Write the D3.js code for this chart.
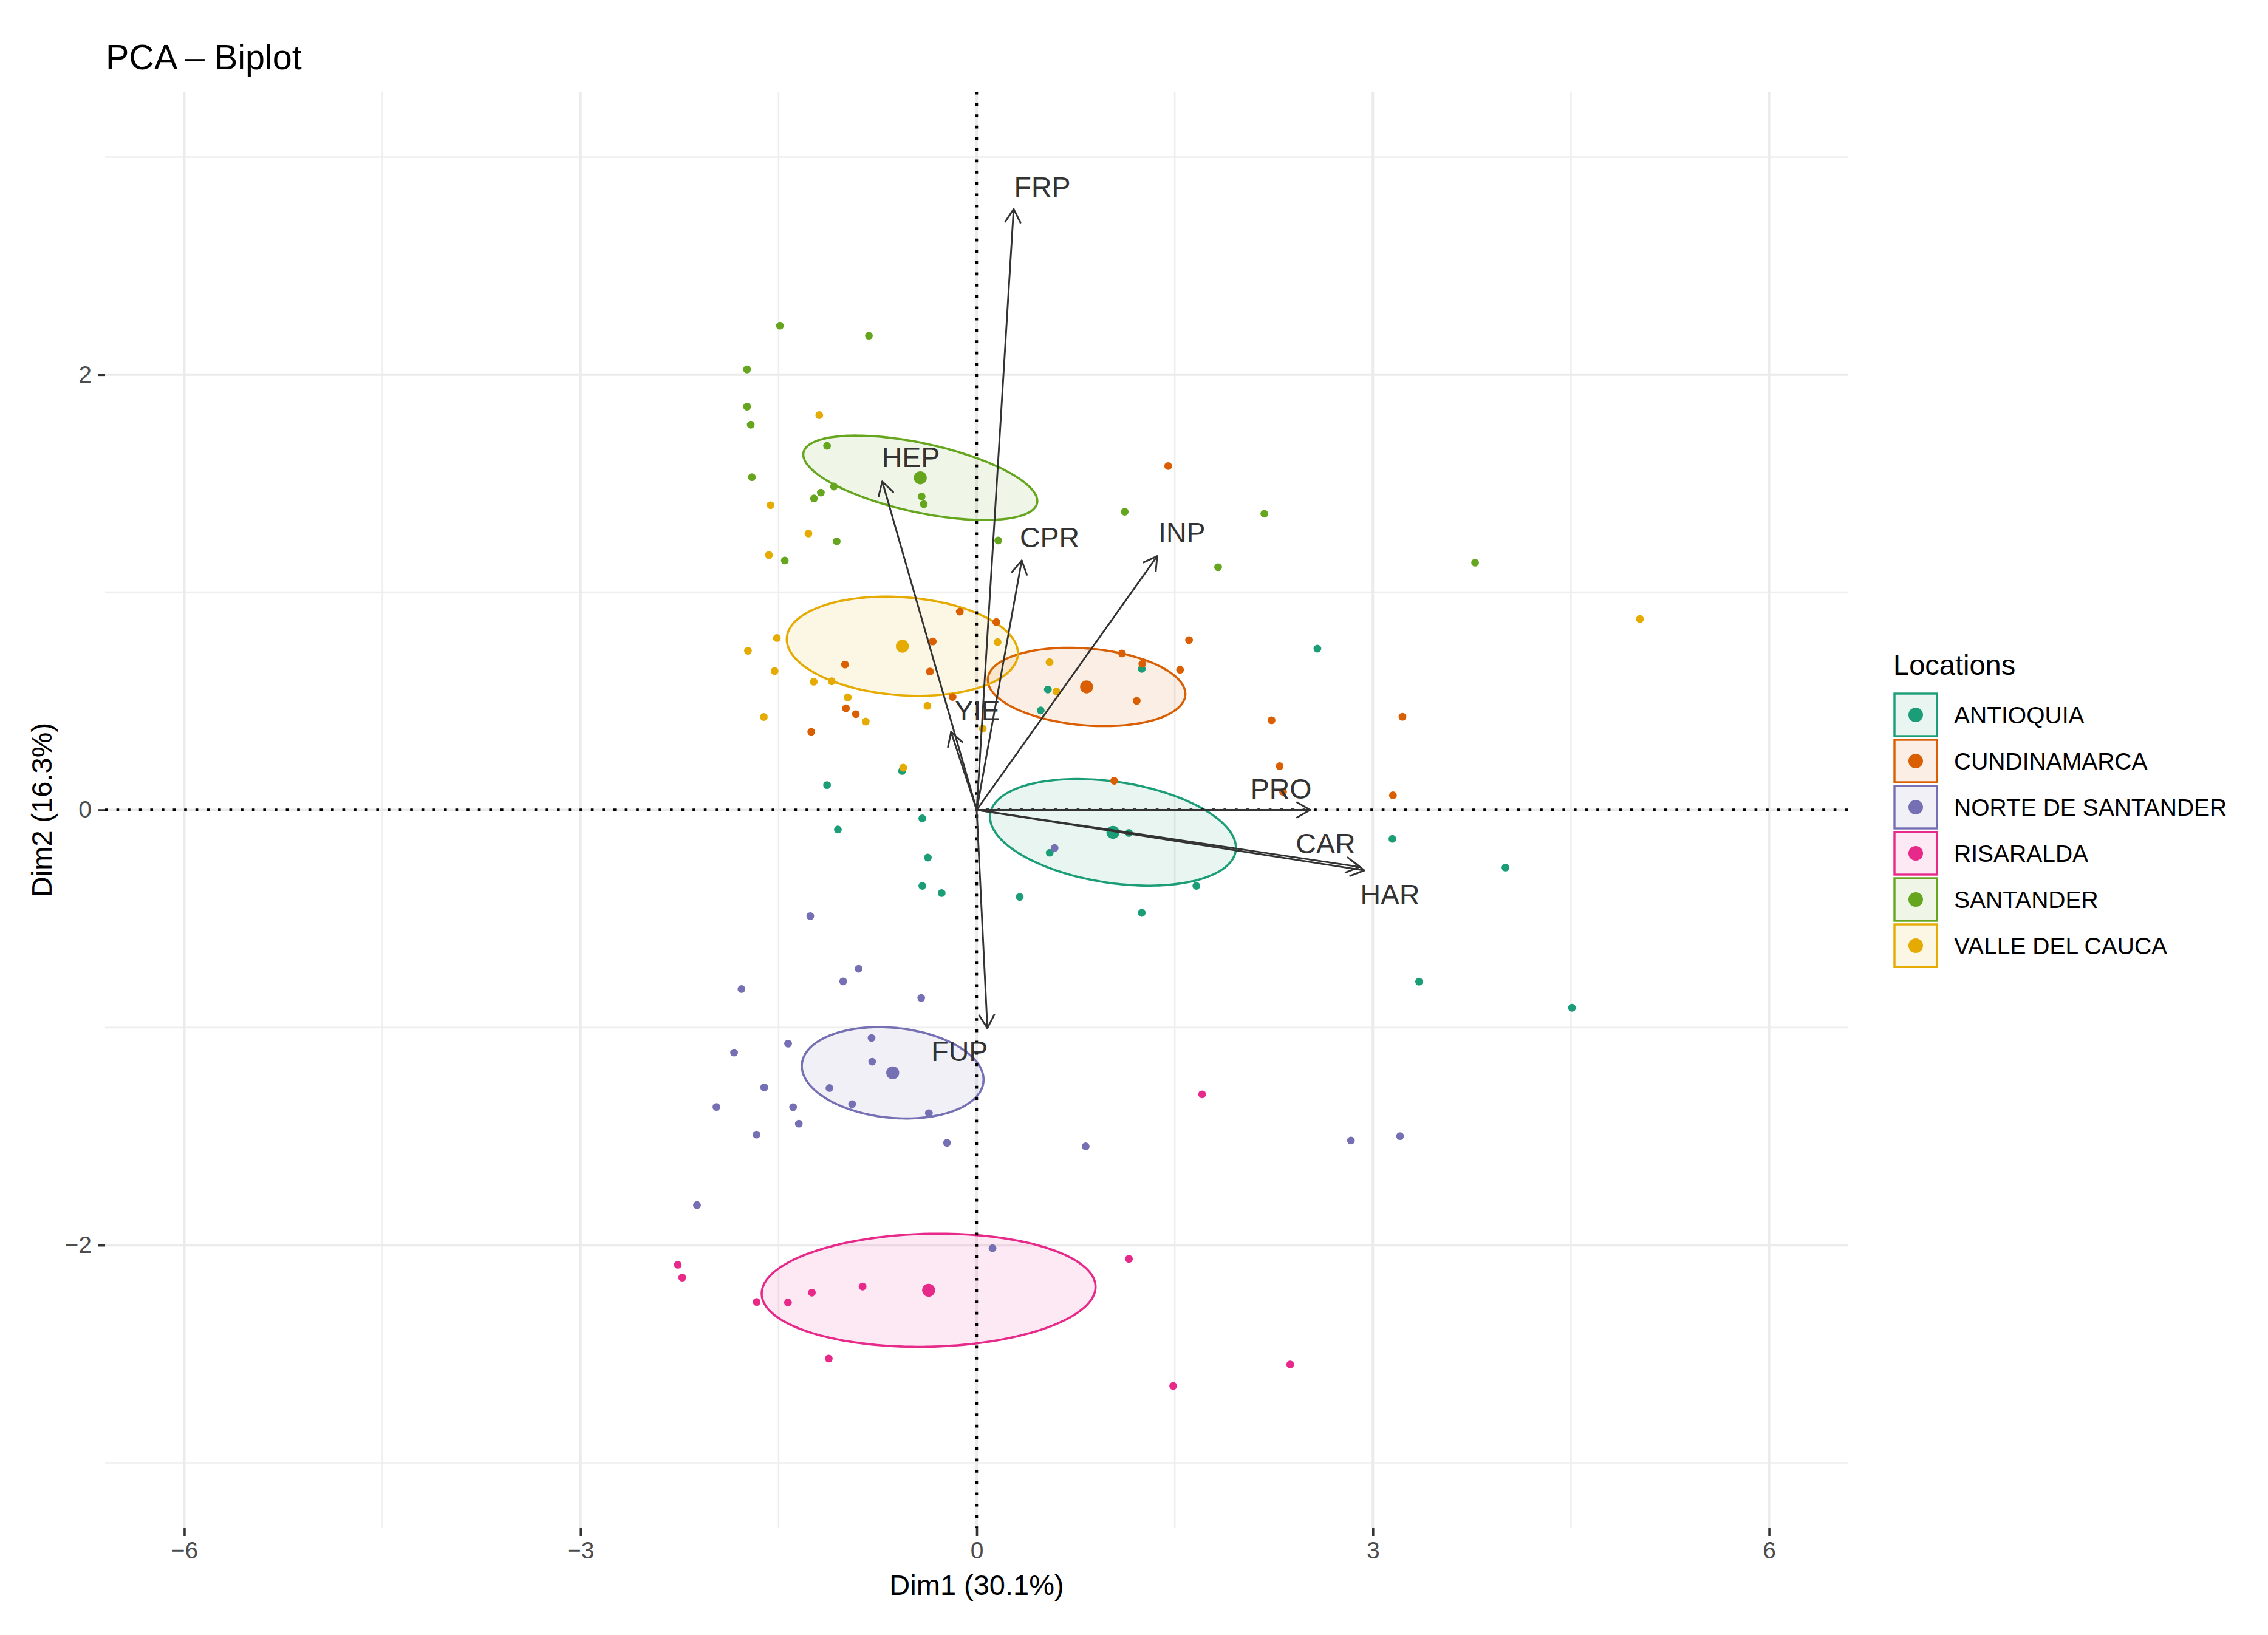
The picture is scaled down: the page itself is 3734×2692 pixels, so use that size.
<!DOCTYPE html>
<html>
<head>
<meta charset="utf-8">
<script src="https://cdn.jsdelivr.net/npm/d3@7/dist/d3.min.js"></script>
<style>
  html, body { margin: 0; padding: 0; background: #ffffff; }
  svg { display: block; }
  text { font-family: "Liberation Sans", Arial, Helvetica, sans-serif; }
</style>
</head>
<body>
<svg id="chart" width="3734" height="2692"></svg>
<script>
// ---------------- DATA ----------------
const categories = ["ANTIOQUIA", "CUNDINAMARCA", "NORTE DE SANTANDER", "RISARALDA", "SANTANDER", "VALLE DEL CAUCA"];
const palette = ["#1B9E77", "#D95F02", "#7570B3", "#E7298A", "#66A61E", "#E6AB02"];

const antioquia = [[1.250,0.648],[0.539,0.553],[0.485,0.457],[-0.565,0.179],[2.580,0.741],[-1.133,0.114],
  [-0.412,-0.039],[-1.051,-0.090],[-0.370,-0.219],[-0.412,-0.349],[-0.265,-0.382],[0.326,-0.400],
  [1.250,-0.473],[1.153,-0.106],[0.553,-0.197],[1.663,-0.349],[3.148,-0.133],[3.350,-0.789],
  [4.004,-0.265],[4.508,-0.909]];
const cundinamarca = [[1.450,1.580],[-0.128,0.911],[0.149,0.863],[-0.333,0.774],[-0.997,0.668],[-0.354,0.636],
  [-0.182,0.519],[-0.990,0.467],[-0.915,0.440],[-1.253,0.359],[1.100,0.719],[1.254,0.671],[1.540,0.644],
  [1.212,0.501],[2.233,0.412],[3.224,0.428],[2.294,0.201],[2.320,0.083],[3.152,0.067],[1.041,0.134],[1.608,0.780]];
const norteDeSantander = [[0.590,-0.175],[-1.260,-0.488],[-0.894,-0.730],[-1.011,-0.788],[-1.781,-0.823],
  [-0.420,-0.864],[-0.796,-1.048],[-1.428,-1.074],[-1.837,-1.115],[-0.791,-1.157],[-1.609,-1.275],
  [-1.115,-1.278],[-1.971,-1.365],[-1.390,-1.366],[-0.943,-1.352],[-0.362,-1.394],[-1.347,-1.442],
  [-1.667,-1.492],[-0.225,-1.530],[0.825,-1.546],[-2.118,-1.816],[0.120,-2.014],[2.834,-1.519],[3.206,-1.499]];
const risaralda = [[-2.263,-2.090],[-2.230,-2.149],[-1.666,-2.261],[-1.429,-2.263],[-1.248,-2.218],
  [-0.864,-2.190],[-1.120,-2.521],[1.153,-2.063],[1.707,-1.307],[1.488,-2.647],[2.374,-2.548]];
const santander = [[-1.490,2.225],[-0.816,2.179],[-1.739,2.024],[-1.739,1.853],[-1.711,1.770],[-1.133,1.673],
  [-1.702,1.529],[-1.081,1.486],[-1.180,1.458],[-1.232,1.431],[-0.417,1.440],[-0.401,1.405],[-1.060,1.234],
  [-1.453,1.146],[0.163,1.238],[1.121,1.370],[2.178,1.361],[1.828,1.115],[3.774,1.136]];
const valleDelCauca = [[-1.192,1.814],[-1.561,1.400],[-1.274,1.270],[-1.573,1.171],[-1.513,0.790],[-1.732,0.731],
  [-1.530,0.638],[-1.234,0.589],[-1.098,0.591],[-0.976,0.517],[-0.840,0.406],[-1.612,0.427],[-0.373,0.478],
  [0.158,0.771],[0.552,0.679],[0.604,0.544],[0.046,0.373],[-0.556,0.194],[5.022,0.877]];

const groupPoints = [antioquia, cundinamarca, norteDeSantander, risaralda, santander, valleDelCauca];

// group means (big points / ellipse centres)
const centroidX = [1.032, 0.832, -0.636, -0.364, -0.427, -0.563];
const centroidY = [-0.103, 0.565, -1.208, -2.207, 1.526, 0.752];
// confidence ellipses: half extent in x, half extent in y, correlation
const ellipseHalfX = [0.931, 0.748, 0.688, 1.264, 0.886, 0.875];
const ellipseHalfY = [0.245, 0.180, 0.210, 0.260, 0.194, 0.228];
const ellipseRho   = [-0.29, -0.18, -0.15, 0.06, -0.55, -0.14];

// variable arrows
const variables = ["FRP", "HEP", "CPR", "INP", "YIE", "FUP", "PRO", "CAR", "HAR"];
const varX = [0.280, -0.715, 0.341, 1.367, -0.194, 0.081, 2.525, 2.900, 2.935];
const varY = [2.761, 1.509, 1.146, 1.166, 0.358, -1.003, 0.000, -0.262, -0.278];
const labelX = [0.497, -0.499, 0.552, 1.554, 0.005, -0.130, 2.305, 2.642, 3.130];
const labelY = [2.865, 1.621, 1.254, 1.275, 0.459, -1.108, 0.098, -0.153, -0.386];

const xMajor = [-6, -3, 0, 3, 6];
const xMinor = [-4.5, -1.5, 1.5, 4.5];
const yMajor = [-2, 0, 2];
const yMinor = [-3, -1, 1, 3];
const xDomain = [-6.6, 6.6];
const yDomain = [-3.3, 3.3];

const titleText = "PCA – Biplot";
const xTitle = "Dim1 (30.1%)";
const yTitle = "Dim2 (16.3%)";
const legendTitle = "Locations";

// ---------------- LAYOUT ----------------
const panel = { left: 173, right: 3043, top: 151, bottom: 2516 };
const svg = d3.select("#chart");
svg.append("rect").attr("width", 3734).attr("height", 2692).attr("fill", "#ffffff");

const x = d3.scaleLinear().domain(xDomain).range([panel.left, panel.right]);
const y = d3.scaleLinear().domain(yDomain).range([panel.bottom, panel.top]);

// grid
const grid = svg.append("g");
grid.selectAll(".vminor").data(xMinor).join("line")
  .attr("x1", d => x(d)).attr("x2", d => x(d)).attr("y1", panel.top).attr("y2", panel.bottom)
  .attr("stroke", "#eeeeee").attr("stroke-width", 2.6);
grid.selectAll(".hminor").data(yMinor).join("line")
  .attr("y1", d => y(d)).attr("y2", d => y(d)).attr("x1", panel.left).attr("x2", panel.right)
  .attr("stroke", "#eeeeee").attr("stroke-width", 2.6);
grid.selectAll(".vmajor").data(xMajor).join("line")
  .attr("x1", d => x(d)).attr("x2", d => x(d)).attr("y1", panel.top).attr("y2", panel.bottom)
  .attr("stroke", "#ebebeb").attr("stroke-width", 4);
grid.selectAll(".hmajor").data(yMajor).join("line")
  .attr("y1", d => y(d)).attr("y2", d => y(d)).attr("x1", panel.left).attr("x2", panel.right)
  .attr("stroke", "#ebebeb").attr("stroke-width", 4);

// axes (ticks + labels) using d3 axes
const minusFmt = d => d < 0 ? "\u2212" + Math.abs(d) : String(d);
const xAxis = d3.axisBottom(x).tickValues(xMajor).tickSize(13).tickPadding(9).tickFormat(minusFmt);
const yAxis = d3.axisLeft(y).tickValues(yMajor).tickSize(11).tickPadding(11).tickFormat(minusFmt);
const gx = svg.append("g").attr("transform", `translate(0,${panel.bottom})`).call(xAxis);
const gy = svg.append("g").attr("transform", `translate(${panel.left},0)`).call(yAxis);
[gx, gy].forEach(g => {
  g.select(".domain").remove();
  g.selectAll(".tick line").attr("stroke", "#333333").attr("stroke-width", 3.6);
  g.selectAll(".tick text").attr("fill", "#4d4d4d").attr("font-size", 39)
    .attr("font-family", "Liberation Sans, Arial, sans-serif");
});

// ellipses
function ellipsePoints(i) {
  const pts = [];
  const r = ellipseRho[i], s = Math.sqrt(1 - r * r);
  for (let k = 0; k <= 180; k++) {
    const t = (k / 180) * 2 * Math.PI;
    pts.push([centroidX[i] + ellipseHalfX[i] * Math.cos(t),
              centroidY[i] + ellipseHalfY[i] * (r * Math.cos(t) - s * Math.sin(t))]);
  }
  return pts;
}
const line = d3.line().x(d => x(d[0])).y(d => y(d[1])).curve(d3.curveLinearClosed);
const ellG = svg.append("g");
categories.forEach((c, i) => {
  ellG.append("path").attr("d", line(ellipsePoints(i)))
    .attr("fill", palette[i]).attr("fill-opacity", 0.1)
    .attr("stroke", palette[i]).attr("stroke-width", 3.6);
});

// individual points
const ptG = svg.append("g");
groupPoints.forEach((pts, i) => {
  ptG.selectAll(null).data(pts).join("circle")
    .attr("cx", d => x(d[0])).attr("cy", d => y(d[1])).attr("r", 6.4)
    .attr("fill", palette[i]);
});
// centroids
categories.forEach((c, i) => {
  ptG.append("circle").attr("cx", x(centroidX[i])).attr("cy", y(centroidY[i])).attr("r", 10.7)
    .attr("fill", palette[i]);
});

// dotted zero lines
svg.append("line").attr("x1", x(0)).attr("x2", x(0)).attr("y1", panel.top).attr("y2", panel.bottom)
  .attr("stroke", "#000").attr("stroke-width", 4.6).attr("stroke-dasharray", "4.6 14");
svg.append("line").attr("y1", y(0)).attr("y2", y(0)).attr("x1", panel.left).attr("x2", panel.right)
  .attr("stroke", "#000").attr("stroke-width", 4.6).attr("stroke-dasharray", "4.6 14");

// arrows
const arrG = svg.append("g").attr("stroke", "#333333").attr("stroke-width", 2.9).attr("fill", "none")
  .attr("stroke-linecap", "round").attr("stroke-linejoin", "round");
variables.forEach((v, i) => {
  const x0 = x(0), y0 = y(0), x1 = x(varX[i]), y1 = y(varY[i]);
  arrG.append("line").attr("x1", x0).attr("y1", y0).attr("x2", x1).attr("y2", y1);
  const ang = Math.atan2(y1 - y0, x1 - x0);
  const L = 25, a = Math.PI / 6;
  const p1 = [x1 - L * Math.cos(ang - a), y1 - L * Math.sin(ang - a)];
  const p2 = [x1 - L * Math.cos(ang + a), y1 - L * Math.sin(ang + a)];
  arrG.append("path").attr("d", `M${p1[0]},${p1[1]}L${x1},${y1}L${p2[0]},${p2[1]}`);
});
svg.append("g").selectAll("text").data(variables).join("text")
  .attr("x", (d, i) => x(labelX[i])).attr("y", (d, i) => y(labelY[i]))
  .attr("text-anchor", "middle").attr("dy", "0.36em")
  .attr("font-size", 46.5).attr("fill", "#333333").text(d => d);

// titles
svg.append("text").attr("x", 174).attr("y", 114).attr("font-size", 57.5).attr("fill", "#000").text(titleText);
svg.append("text").attr("x", (panel.left + panel.right) / 2).attr("y", 2626)
  .attr("text-anchor", "middle").attr("font-size", 47).attr("fill", "#000").text(xTitle);
svg.append("text").attr("transform", `translate(85,${(panel.top + panel.bottom) / 2}) rotate(-90)`)
  .attr("text-anchor", "middle").attr("font-size", 47).attr("fill", "#000").text(yTitle);

// legend
const leg = svg.append("g");
leg.append("text").attr("x", 3117).attr("y", 1111).attr("font-size", 47).attr("fill", "#000").text(legendTitle);
const keySize = 70, keyPitch = 76, keyTop = 1142, keyLeft = 3119;
categories.forEach((c, i) => {
  const top = keyTop + i * keyPitch;
  leg.append("rect").attr("x", keyLeft).attr("y", top).attr("width", keySize).attr("height", keySize)
    .attr("fill", palette[i]).attr("fill-opacity", 0.1)
    .attr("stroke", palette[i]).attr("stroke-width", 3.4);
  leg.append("circle").attr("cx", keyLeft + keySize / 2).attr("cy", top + keySize / 2).attr("r", 12)
    .attr("fill", palette[i]);
  leg.append("text").attr("x", 3217).attr("y", top + keySize / 2).attr("dy", "0.36em")
    .attr("font-size", 39).attr("fill", "#000").text(c);
});
</script>
</body>
</html>
